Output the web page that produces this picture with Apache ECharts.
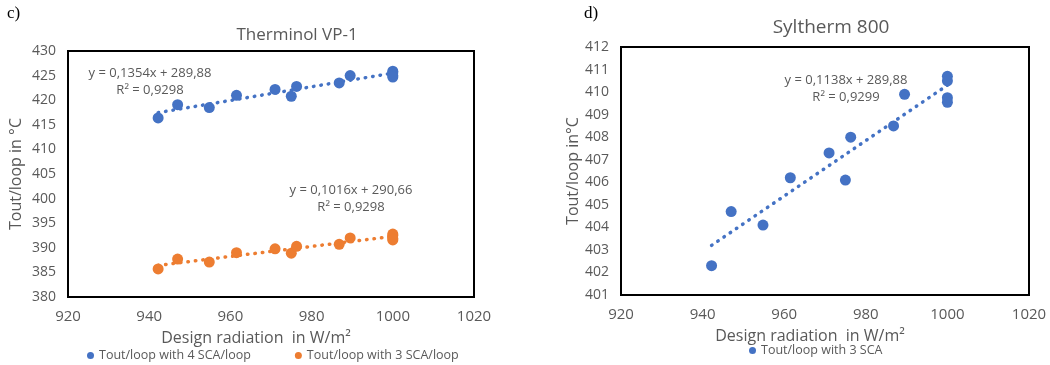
<!DOCTYPE html>
<html>
<head>
<meta charset="utf-8">
<script src="https://cdn.jsdelivr.net/npm/echarts@6/dist/echarts.min.js"></script>
<style>
  html, body { margin: 0; padding: 0; background: #fff; }
  #chart { width: 1050px; height: 365px; }
</style>
</head>
<body>
<div id="chart"></div>
<script>
// design radiation (W/m²), same for all three series
const radiation = [942.2, 947, 954.8, 961.5, 971, 975, 976.3, 986.8, 989.5, 1000, 1000, 1000, 1000];
// Therminol VP-1
const vp1FourSca = [416.4, 419.1, 418.5, 421.0, 422.2, 420.8, 422.8, 423.5, 425.0, 425.9, 425.6, 425.0, 424.7];
const vp1ThreeSca = [385.7, 387.7, 387.1, 389.0, 389.8, 388.9, 390.3, 390.7, 392.0, 392.8, 392.5, 391.9, 391.6];
// Syltherm 800
const sylThreeSca = [402.3, 404.7, 404.1, 406.2, 407.3, 406.1, 408.0, 408.5, 409.9, 410.7, 410.5, 409.75, 409.55];

const xTicks = [920, 940, 960, 980, 1000, 1020];
const vp1Ticks = [380, 430, 5];
const sylTicks = [401, 412, 1];

const BLUE = '#4472C4';
const ORANGE = '#ED7D31';
const GREY = '#595959';
const FONT = 'Open Sans';

const pairs = (xs, ys) => xs.map((x, i) => [x, ys[i]]);

// least squares trend line, drawn between first and last x
function trend(xs, ys) {
  const n = xs.length;
  const mx = xs.reduce((a, b) => a + b, 0) / n;
  const my = ys.reduce((a, b) => a + b, 0) / n;
  let sxy = 0, sxx = 0;
  xs.forEach((x, i) => { sxy += (x - mx) * (ys[i] - my); sxx += (x - mx) * (x - mx); });
  const k = sxy / sxx, b = my - k * mx;
  const x0 = Math.min(...xs), x1 = Math.max(...xs);
  return [[x0, k * x0 + b], [x1, k * x1 + b]];
}

function xAxis(gridIndex) {
  return {
    type: 'value', gridIndex,
    min: xTicks[0], max: xTicks[xTicks.length - 1], interval: 20,
    axisLine: { show: false }, axisTick: { show: false }, splitLine: { show: false },
    axisLabel: { color: GREY, fontFamily: FONT, fontSize: 15, margin: 12, formatter: v => String(v) },
    name: 'Design radiation  in W/m\u00B2', nameLocation: 'middle', nameGap: 33,
    nameTextStyle: { color: GREY, fontFamily: FONT, fontSize: 16, padding: [0, 30, 0, 0] }
  };
}

function yAxis(gridIndex, ticks, name, gap) {
  return {
    type: 'value', gridIndex,
    min: ticks[0], max: ticks[1], interval: ticks[2],
    axisLine: { show: false }, axisTick: { show: false }, splitLine: { show: false },
    axisLabel: { color: GREY, fontFamily: FONT, fontSize: 14, margin: 12 },
    name, nameLocation: 'middle', nameGap: gap,
    nameTextStyle: { color: GREY, fontFamily: FONT, fontSize: 16 }
  };
}

function scatter(name, idx, ys, color) {
  return {
    name, type: 'scatter', xAxisIndex: idx, yAxisIndex: idx,
    data: pairs(radiation, ys), symbolSize: 11,
    itemStyle: { color, opacity: 1 }
  };
}

function trendLine(idx, ys, color) {
  return {
    type: 'line', xAxisIndex: idx, yAxisIndex: idx,
    data: trend(radiation, ys), showSymbol: false, silent: true, z: 1,
    lineStyle: { color, width: 3.5, type: [0.5, 7], cap: 'round' }
  };
}

const annot = (x, y, text, size) => ({
  type: 'text', x, y,
  style: { text, fill: GREY, font: (size || 13) + 'px "' + FONT + '"', align: 'center', verticalAlign: 'middle' }
});

const chart = echarts.init(document.getElementById('chart'));
chart.setOption({
  animation: false,
  title: [
    { text: 'Therminol VP-1', left: 292, top: 22, textAlign: 'center',
      textStyle: { color: GREY, fontFamily: FONT, fontSize: 17, fontWeight: 'normal' } },
    { text: 'Syltherm 800', left: 826, top: 13, textAlign: 'center',
      textStyle: { color: GREY, fontFamily: FONT, fontSize: 19, fontWeight: 'normal' } }
  ],
  grid: [
    { left: 68, top: 51, width: 406, height: 246, show: true, borderColor: '#000', borderWidth: 2 },
    { left: 621, top: 47, width: 408, height: 248, show: true, borderColor: '#000', borderWidth: 2 }
  ],
  xAxis: [xAxis(0), xAxis(1)],
  yAxis: [yAxis(0, vp1Ticks, 'Tout/loop in \u00B0C', 44), yAxis(1, sylTicks, 'Tout/loop in\u00B0C', 40)],
  legend: [
    { data: ['Tout/loop with 4 SCA/loop', 'Tout/loop with 3 SCA/loop'], left: 82, top: 344,
      icon: 'circle', itemWidth: 7, itemHeight: 7, itemGap: 44,
      textStyle: { color: GREY, fontFamily: FONT, fontSize: 12.5 } },
    { data: ['Tout/loop with 3 SCA'], left: 744, top: 339,
      icon: 'circle', itemWidth: 7, itemHeight: 7,
      textStyle: { color: GREY, fontFamily: FONT, fontSize: 12.5 } }
  ],
  series: [
    trendLine(0, vp1FourSca, BLUE),
    trendLine(0, vp1ThreeSca, ORANGE),
    trendLine(1, sylThreeSca, BLUE),
    scatter('Tout/loop with 4 SCA/loop', 0, vp1FourSca, BLUE),
    scatter('Tout/loop with 3 SCA/loop', 0, vp1ThreeSca, ORANGE),
    scatter('Tout/loop with 3 SCA', 1, sylThreeSca, BLUE)
  ],
  graphic: [
    { type: 'text', left: 7, top: 5, style: { text: 'c)', fill: '#000', font: '17px "Liberation Serif"' } },
    { type: 'text', left: 584, top: 5, style: { text: 'd)', fill: '#000', font: '17px "Liberation Serif"' } },
    annot(150, 73, 'y = 0,1354x + 289,88'),
    annot(150, 90, 'R\u00B2 = 0,9298'),
    annot(351, 190, 'y = 0,1016x + 290,66'),
    annot(351, 207, 'R\u00B2 = 0,9298'),
    annot(846, 80, 'y = 0,1138x + 289,88'),
    annot(846, 97, 'R\u00B2 = 0,9299')
  ]
});
</script>
</body>
</html>
